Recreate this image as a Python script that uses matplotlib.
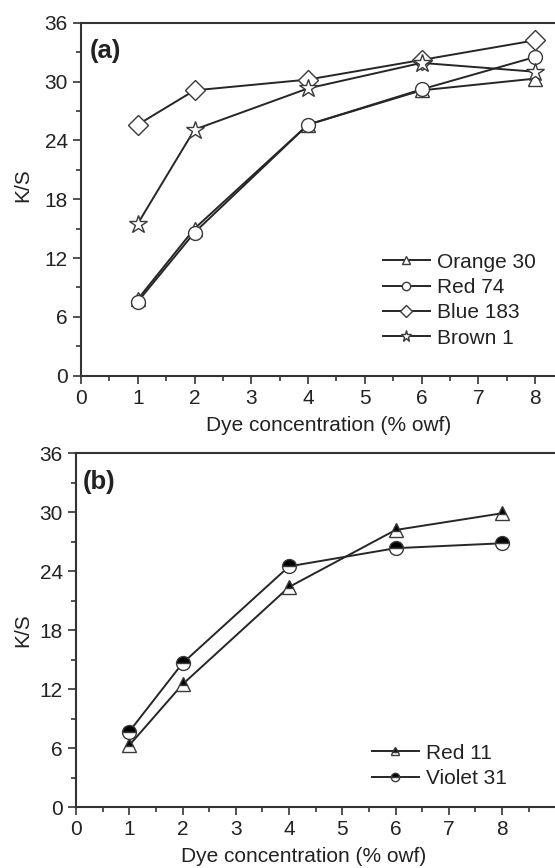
"""
Recreate the two-panel K/S vs dye concentration chart.
"""
import matplotlib
matplotlib.use("Agg")
import matplotlib.pyplot as plt
from matplotlib.ticker import MultipleLocator

plt.rcParams["font.family"] = ["Liberation Sans", "DejaVu Sans"]

# panel (a)
conc_a = [1, 2, 4, 6, 8]
orange_30 = [7.8, 15.0, 25.6, 29.1, 30.3]
red_74 = [7.55, 14.6, 25.6, 29.2, 32.5]
blue_183 = [25.6, 29.1, 30.2, 32.2, 34.2]
brown_1 = [15.5, 25.1, 29.3, 31.9, 31.0]

# panel (b)
conc_b = [1, 2, 4, 6, 8]
red_11 = [6.3, 12.5, 22.4, 28.2, 29.9]
violet_31 = [7.7, 14.65, 24.5, 26.35, 26.85]

LINE_COLOR = "#262626"
SPINE_COLOR = "#333333"
TEXT_COLOR = "#222222"


def style_axes(ax, xmax, label, label_xy, xlab_xy, ylab_xy):
    ax.set_xlim(0, xmax)
    ax.set_ylim(0, 36)
    ax.xaxis.set_minor_locator(MultipleLocator(0.5))
    ax.yaxis.set_major_locator(MultipleLocator(6))
    ax.yaxis.set_minor_locator(MultipleLocator(3))
    ax.set_xticks(range(0, 9))
    ax.tick_params(which="both", direction="out", colors=SPINE_COLOR,
                   labelcolor=TEXT_COLOR, labelsize=15, width=1.2)
    ax.tick_params(which="major", length=6, pad=3.5)
    ax.tick_params(which="minor", length=3.5)
    ax.spines["right"].set_visible(False)
    for side in ("left", "bottom", "top"):
        ax.spines[side].set_color(SPINE_COLOR)
        ax.spines[side].set_linewidth(1.5)
    ax.set_xlabel("Dye concentration (% owf)", fontsize=15, color=TEXT_COLOR)
    ax.set_ylabel("K/S", fontsize=15, color=TEXT_COLOR)
    ax.xaxis.set_label_coords(*xlab_xy)
    ax.yaxis.set_label_coords(*ylab_xy)
    ax.text(label_xy[0], label_xy[1], label, transform=ax.transAxes,
            fontsize=18.5, fontweight="bold", color=TEXT_COLOR,
            va="center", ha="left")


fig = plt.figure(figsize=(5.55, 8.68), dpi=100)

ax_a = fig.add_axes([81 / 555, 1 - 375.7 / 868, 474 / 555, 353 / 868])
ax_b = fig.add_axes([76 / 555, 1 - 807.3 / 868, 479 / 555, 354 / 868])

common = dict(color=LINE_COLOR, lw=1.4, markerfacecolor="white",
              markeredgecolor="#3a3a3a", markeredgewidth=1.0)

ax_a.plot(conc_a, orange_30, marker="^", ms=10.5, label="Orange 30", **common)
ax_a.plot(conc_a, red_74, marker="o", ms=10, label="Red 74", **common)
ax_a.plot(conc_a, blue_183, marker="D", ms=10, label="Blue 183", **common)
ax_a.plot(conc_a, brown_1, marker="*", ms=13.5, label="Brown 1", **common)

half = dict(color=LINE_COLOR, lw=1.4, fillstyle="top", markerfacecolor="black",
            markerfacecoloralt="white", markeredgecolor="#3a3a3a",
            markeredgewidth=1.0)
ax_b.plot(conc_b, red_11, marker="^", ms=10.5, label="Red 11", **half)
ax_b.plot(conc_b, violet_31, marker="o", ms=10, label="Violet 31", **half)

style_axes(ax_a, 474 / 56.75, "(a)", (0.019, 0.92), (0.522, -0.114),
           (-0.103, 0.54))
style_axes(ax_b, 479 / 53.25, "(b)", (0.015, 0.919), (0.475, -0.113),
           (-0.092, 0.5))

for ax, anchor in ((ax_a, (0.637, 0.214)), (ax_b, (0.618, 0.117))):
    ax.legend(loc="center left", bbox_to_anchor=anchor, frameon=False,
              fontsize=15, handlelength=2.25, handletextpad=0.33,
              labelspacing=0.3, borderpad=0, borderaxespad=0,
              markerscale=0.6, labelcolor=TEXT_COLOR)

fig.savefig("out.png", dpi=100)
